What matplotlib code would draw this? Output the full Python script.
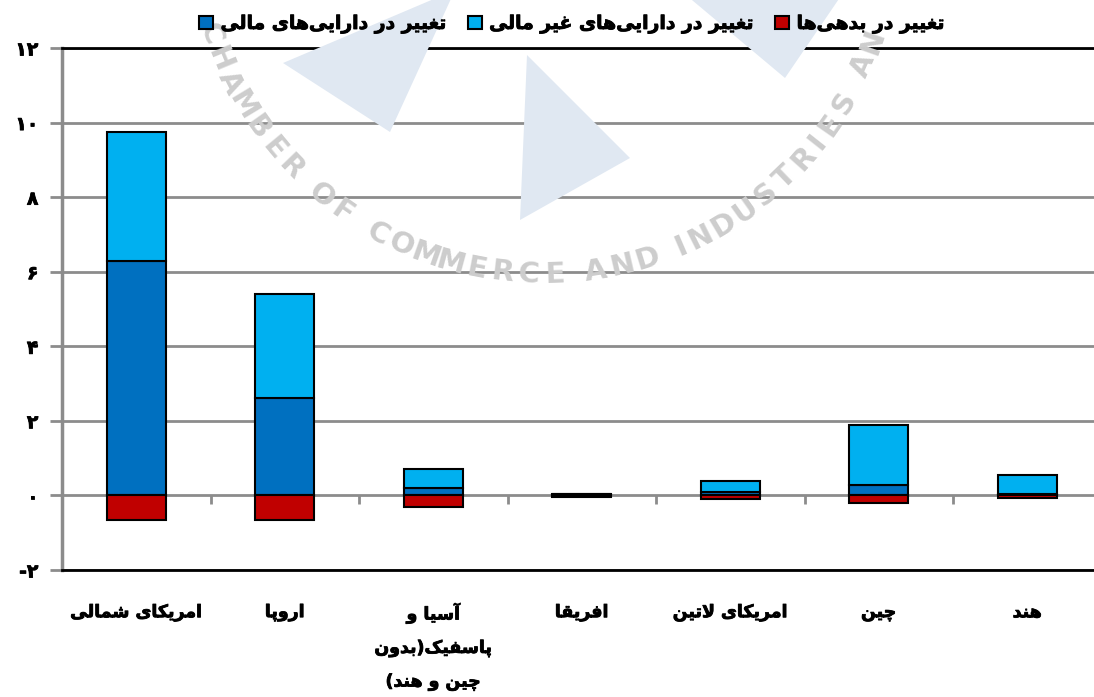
import numpy as np
import matplotlib
matplotlib.use("Agg")
import matplotlib.pyplot as plt
import matplotlib.patheffects as pe

# ---------------------------------------------------------------------------
# data
regions = ["امریکای شمالی", "اروپا", "آسیا و\nپاسفیک(بدون\nچین و هند)",
           "افریقا", "امریکای لاتین", "چین", "هند"]
financial = [6.3, 2.62, 0.21, 0.03, 0.10, 0.29, 0.05]
non_financial = [3.45, 2.79, 0.51, 0.02, 0.30, 1.61, 0.49]
liabilities = [-0.67, -0.67, -0.32, -0.03, -0.10, -0.19, -0.08]

series_names = ["تغییر در دارایی‌های مالی",
                "تغییر در دارایی‌های غیر مالی",
                "تغییر در بدهی‌ها"]

yticks = [-2, 0, 2, 4, 6, 8, 10, 12]
ytick_labels = ["-۲", "۰", "۲", "۴", "۶", "۸", "۱۰", "۱۲"]

watermark = "CHAMBER OF COMMERCE AND INDUSTRIES AND MINES"

# ---------------------------------------------------------------------------
# minimal Persian shaping (matplotlib 3.10 has no complex text layout)
FORMS = {
    'ا': ('\uFE8D', '\uFE8E', None, None),
    'آ': ('\uFE81', '\uFE82', None, None),
    'ب': ('\uFE8F', '\uFE90', '\uFE91', '\uFE92'),
    'پ': ('\uFB56', '\uFB57', '\uFB58', '\uFB59'),
    'ت': ('\uFE95', '\uFE96', '\uFE97', '\uFE98'),
    'چ': ('\uFB7A', '\uFB7B', '\uFB7C', '\uFB7D'),
    'د': ('\uFEA9', '\uFEAA', None, None),
    'ر': ('\uFEAD', '\uFEAE', None, None),
    'س': ('\uFEB1', '\uFEB2', '\uFEB3', '\uFEB4'),
    'ش': ('\uFEB5', '\uFEB6', '\uFEB7', '\uFEB8'),
    'غ': ('\uFECD', '\uFECE', '\uFECF', '\uFED0'),
    'ف': ('\uFED1', '\uFED2', '\uFED3', '\uFED4'),
    'ق': ('\uFED5', '\uFED6', '\uFED7', '\uFED8'),
    'ک': ('\uFB8E', '\uFB8F', '\uFB90', '\uFB91'),
    'ل': ('\uFEDD', '\uFEDE', '\uFEDF', '\uFEE0'),
    'م': ('\uFEE1', '\uFEE2', '\uFEE3', '\uFEE4'),
    'ن': ('\uFEE5', '\uFEE6', '\uFEE7', '\uFEE8'),
    'ه': ('\uFEE9', '\uFEEA', '\uFEEB', '\uFEEC'),
    'و': ('\uFEED', '\uFEEE', None, None),
    'ی': ('\uFBFC', '\uFBFD', '\uFBFE', '\uFBFF'),
}
LAM_ALEF = {'ا': ('\uFEFB', '\uFEFC'), 'آ': ('\uFEF5', '\uFEF6')}


def shape_fa(text):
    lines = []
    for line in text.split('\n'):
        out = []
        n = len(line)
        i = 0
        while i < n:
            c = line[i]
            if c not in FORMS:
                if c != '\u200c':
                    out.append(c)
                i += 1
                continue
            prev = line[i - 1] if i > 0 else ''
            joins_prev = prev in FORMS and FORMS[prev][2] is not None
            if c == 'ل' and i + 1 < n and line[i + 1] in LAM_ALEF:
                lig = LAM_ALEF[line[i + 1]]
                out.append(lig[1] if joins_prev else lig[0])
                i += 2
                continue
            nxt = line[i + 1] if i + 1 < n else ''
            iso, fin, ini, med = FORMS[c]
            joins_next = ini is not None and nxt in FORMS
            if joins_prev and joins_next:
                out.append(med)
            elif joins_prev:
                out.append(fin)
            elif joins_next:
                out.append(ini)
            else:
                out.append(iso)
            i += 1
        vis = ''.join(out)[::-1]
        lines.append(vis.translate(str.maketrans('()', ')(')))
    return '\n'.join(lines)


# ---------------------------------------------------------------------------
W, H = 1094, 697
fig = plt.figure(figsize=(W / 100, H / 100), dpi=100)
ax = fig.add_axes([62 / W, 1 - 570 / H, 1 - 62 / W, (570 - 48) / H])

grey = '#8c8c8c'
dark_blue = '#0070C0'
light_blue = '#00B0F0'
red = '#C00000'
font = dict(family='DejaVu Sans', weight='bold', size=12.5)
# the Arabic glyphs of DejaVu bold are light, thicken them a little
heavy = [pe.withStroke(linewidth=0.6, foreground='black')]

# watermark: pale logo triangles and curved text (pixel positions)
tri_color = '#e0e8f2'
for tri in [[(283, 63), (390, 132), (455, -10)],
            [(527, 55), (520, 220), (630, 158)],
            [(680, -10), (785, 78), (845, -10)]]:
    pts = [(px / W, 1 - py / H) for px, py in tri]
    fig.patches.append(plt.Polygon(pts, closed=True, transform=fig.transFigure,
                                   facecolor=tri_color, edgecolor='none',
                                   zorder=0))
cx, cy, r = 543, -75, 350
angle = 164.0
for ch in watermark:
    w = 2.5 if ch == ' ' else (2.6 if ch == 'I' else 4.3)
    a = angle - w / 2
    angle -= w
    if ch == ' ':
        continue
    px = cx + r * np.cos(np.deg2rad(a))
    py = cy + r * np.sin(np.deg2rad(a))
    if py < 18 or px > W - 10:
        continue
    fig.text(px / W, 1 - py / H, ch, ha='center', va='center',
             rotation=90 - a, rotation_mode='anchor',
             fontsize=21, fontweight='bold', color='#cdcdcd',
             family='DejaVu Sans', zorder=0)

ax.set_facecolor('none')

x = np.arange(len(regions))
fin = np.array(financial)
nonfin = np.array(non_financial)
liab = np.array(liabilities)

bar_kw = dict(width=0.4, edgecolor='black', linewidth=1.5, zorder=3)
b1 = ax.bar(x, fin, color=dark_blue, **bar_kw)
b2 = ax.bar(x, nonfin, bottom=fin, color=light_blue, **bar_kw)
b3 = ax.bar(x, liab, color=red, **bar_kw)

ax.set_xlim(-0.5, -0.5 + (W - 62) / 148.5)
ax.set_ylim(-2, 12)

ax.set_yticks(yticks)
ax.set_yticklabels(ytick_labels, fontdict=dict(font, size=13.5))
ax.yaxis.grid(True, color=grey, linewidth=2, zorder=1)
ax.set_axisbelow(True)
ax.tick_params(axis='y', length=9, width=2, color=grey, pad=8)

ax.set_xticks(x)
ax.set_xticklabels([shape_fa(t) for t in regions], fontdict=font,
                   linespacing=2.1, va='top')
ax.tick_params(axis='x', length=0, pad=24)
for lab in ax.get_xticklabels() + ax.get_yticklabels():
    lab.set_path_effects(heavy)

# small ticks between categories hanging from the zero line
ax.vlines(x[:-1] + 0.5, -0.22, 0, color=grey, linewidth=2, zorder=2)

ax.spines['right'].set_visible(False)
ax.spines['left'].set_color(grey)
ax.spines['left'].set_linewidth(2.5)
for side in ['top', 'bottom']:
    ax.spines[side].set_color('black')
    ax.spines[side].set_linewidth(2)

leg = fig.legend([b1, b2, b3], [shape_fa(s) for s in series_names],
                 loc='center', bbox_to_anchor=(572 / W, 1 - 24 / H), ncol=3,
                 frameon=False, prop=dict(font, size=13.5), handlelength=0.75,
                 handleheight=0.75, handletextpad=0.4, columnspacing=1.1)
for t in leg.get_texts():
    t.set_path_effects(heavy)

fig.savefig('out.png', dpi=100)
